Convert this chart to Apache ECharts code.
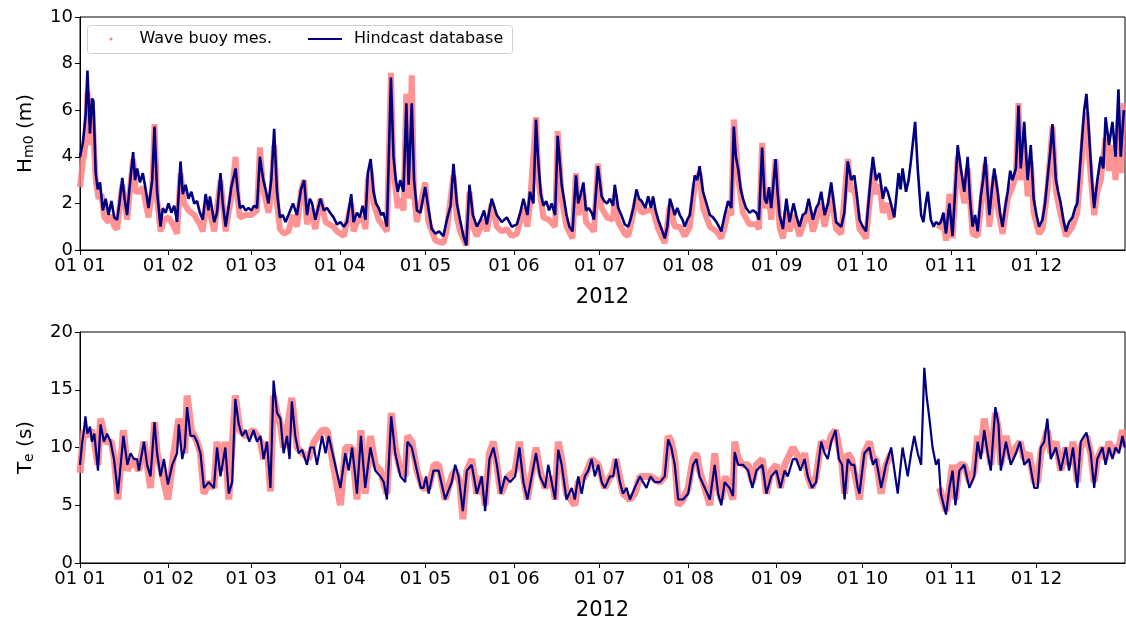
<!DOCTYPE html>
<html>
<head>
<meta charset="utf-8">
<title>Hm0 / Te 2012</title>
<script src="https://cdn.jsdelivr.net/npm/echarts@6/dist/echarts.min.js"></script>
<style>
  html, body { margin: 0; padding: 0; background: #fff; }
  #chart { width: 1126px; height: 623px; }
</style>
</head>
<body>
<div id="chart"></div>
<script>
// x positions are days since 2012-01-01
var monthStarts = [0, 31, 60, 91, 121, 152, 182, 213, 244, 274, 305, 335]
var monthLabels = ['01 01', '01 02', '01 03', '01 04', '01 05', '01 06', '01 07', '01 08', '01 09', '01 10', '01 11', '01 12']

// Hindcast Hm0 (m)
var hmDays = [0, 1, 2, 2.6, 3.5, 4.2, 4.7, 5.5, 6.2, 7, 8, 9, 10, 11, 12, 13, 13.8, 14.8, 15.6, 16.5, 17.3, 18.6, 19.3, 20, 21, 22, 23, 24, 25.3, 26.1, 27, 28.2, 29, 30, 31, 32, 33, 34, 35.2, 36, 37, 38, 39, 40, 41, 42, 43, 44, 45, 45.5, 47, 48, 49.2, 50, 51, 52, 53, 54.5, 55.2, 56, 57, 58, 59, 60, 61, 62, 63, 64.2, 65, 66, 67, 68, 69, 70, 71, 72, 73, 74.6, 76, 77.4, 78.5, 79.5, 80.5, 81.3, 82.4, 83.2, 84.2, 85.4, 86.5, 87.6, 88.8, 90, 91.2, 92.4, 93.5, 95, 95.8, 97, 98, 99, 100, 100.8, 101.8, 102.8, 103.7, 104.6, 105.5, 106.3, 107.5, 108.9, 109.8, 110.6, 111.3, 112.2, 113.3, 114.3, 115.1, 116.2, 117, 118, 119.2, 120.9, 122, 123.2, 124.5, 125.8, 127.3, 128.5, 129.8, 130.8, 132, 133.1, 134.3, 135.3, 136.4, 137.6, 139, 140.3, 141.5, 142.5, 144.2, 146, 147.7, 149.5, 151.2, 153, 154.2, 155.3, 156.7, 157.6, 158.8, 159.7, 160.5, 161.4, 162.3, 163.3, 164.3, 165.2, 166.4, 167.3, 168.7, 169.5, 170.4, 171.4, 172.5, 173.7, 174.5, 175.4, 176.3, 177.2, 178.2, 179.2, 180, 181.4, 182.7, 183.6, 184.6, 185.6, 186.7, 187.3, 188.5, 189.6, 190.8, 192, 192.8, 193.8, 194.9, 195.8, 196.7, 198, 199, 200, 200.7, 201.6, 202.5, 203.7, 204.8, 205.7, 206.6, 207.4, 208.3, 209.2, 210.1, 211, 211.8, 212.7, 213.6, 214.5, 215.3, 216.2, 217, 218.2, 219.4, 220.6, 221.7, 222.9, 223.8, 224.6, 225.8, 227, 228.1, 229, 229.7, 230.5, 231.4, 232.2, 233.3, 234.5, 235.7, 236.9, 237.8, 238.9, 239.8, 240.5, 241.3, 242.1, 243.6, 244.3, 245, 246.2, 247.4, 248.5, 249.9, 251, 252, 253.1, 254.2, 255.2, 256.7, 257.8, 258.7, 259.6, 260.8, 262, 263.1, 264, 264.8, 266.6, 267.7, 268.9, 270.1, 271.2, 272.2, 273, 274.2, 275.3, 276.5, 277.7, 278.8, 280, 281.2, 282.1, 282.9, 284, 285.2, 286.7, 287.4, 288.1, 289.3, 290.2, 291, 292.5, 293.4, 294.6, 295.4, 296.2, 296.9, 298, 299, 299.8, 300.7, 301.5, 302.4, 303.3, 304.5, 305.6, 306.5, 307.4, 308.5, 309.7, 310.9, 311.7, 312.6, 313.5, 314.4, 315.5, 316.3, 317.1, 317.8, 318.5, 319.3, 320.2, 321.4, 322.2, 323.1, 324, 324.9, 325.8, 326.6, 327.8, 328.7, 329.5, 330.7, 331.9, 333, 334, 335, 335.9, 337.1, 338, 338.8, 339.8, 340.6, 341.8, 342.6, 343.5, 344.4, 345.3, 346.4, 347.6, 348.5, 349.3, 350.5, 351.7, 352.5, 353.4, 354.4, 355.2, 356.3, 357.5, 358.4, 359.2, 360.4, 361.6, 362.7, 363.7, 364.5, 365.6]
var hmHindcast = [4.0, 4.6, 5.8, 7.7, 5.0, 6.5, 6.4, 3.3, 2.6, 2.9, 1.7, 2.2, 1.5, 2.1, 1.4, 1.3, 2.0, 3.1, 2.2, 1.5, 2.6, 4.2, 3.0, 3.5, 2.9, 3.3, 2.6, 1.8, 3.0, 5.3, 2.5, 1.0, 1.8, 1.6, 2.0, 1.6, 1.9, 1.2, 3.8, 2.4, 2.8, 2.2, 2.5, 2.0, 2.1, 1.6, 1.3, 2.4, 1.7, 2.3, 1.2, 1.6, 3.3, 2.0, 1.0, 1.8, 2.7, 3.5, 2.6, 1.8, 1.9, 1.7, 1.8, 1.7, 1.9, 1.8, 4.0, 3.0, 2.6, 2.0, 3.0, 5.2, 2.5, 1.4, 1.5, 1.2, 1.5, 2.0, 1.5, 2.6, 3.0, 1.5, 2.2, 2.0, 1.3, 1.7, 2.2, 1.7, 1.8, 1.6, 1.4, 1.1, 1.2, 1.0, 1.2, 2.4, 1.2, 1.6, 1.4, 1.9, 1.3, 3.3, 3.9, 2.5, 2.0, 1.8, 1.5, 1.6, 1.0, 7.4, 4.0, 3.0, 2.5, 3.0, 2.5, 6.3, 2.8, 6.3, 3.0, 1.7, 1.6, 2.7, 1.8, 0.9, 0.7, 0.8, 0.6, 1.3, 1.9, 3.7, 2.0, 1.3, 0.6, 0.2, 2.8, 1.5, 1.0, 1.3, 1.7, 1.1, 2.2, 1.5, 1.2, 1.4, 1.0, 1.1, 1.6, 2.2, 1.5, 2.5, 2.0, 5.6, 3.8, 2.4, 1.9, 2.1, 1.7, 2.0, 1.5, 4.9, 2.8, 2.2, 1.5, 1.0, 0.8, 3.2, 2.0, 2.4, 2.9, 1.7, 1.8, 1.6, 1.3, 3.6, 2.3, 2.1, 2.0, 2.2, 1.9, 2.8, 1.8, 1.5, 1.1, 1.0, 1.3, 1.8, 2.6, 2.2, 2.1, 1.8, 2.3, 1.8, 2.3, 1.7, 1.3, 0.9, 0.5, 1.0, 2.2, 1.9, 1.5, 1.8, 1.5, 1.3, 1.0, 1.3, 1.5, 2.4, 3.2, 3.0, 3.6, 2.5, 2.0, 1.5, 1.4, 1.2, 1.0, 0.8, 1.5, 2.1, 1.8, 5.3, 4.0, 3.5, 2.6, 2.2, 1.8, 1.6, 1.7, 1.6, 1.3, 4.4, 2.2, 2.0, 2.7, 1.8, 3.9, 2.5, 1.5, 0.9, 2.2, 1.2, 2.0, 1.4, 1.0, 1.5, 1.6, 2.2, 1.3, 1.8, 2.0, 2.5, 1.5, 2.0, 2.9, 2.0, 1.2, 1.0, 1.6, 3.8, 3.0, 3.2, 2.2, 1.3, 1.0, 0.8, 2.5, 4.0, 3.0, 3.3, 2.2, 2.7, 2.5, 2.0, 1.4, 3.3, 2.6, 3.5, 2.5, 3.0, 3.8, 5.5, 3.5, 1.5, 1.2, 2.0, 2.5, 1.3, 1.0, 1.2, 1.1, 1.2, 1.6, 0.7, 2.0, 0.6, 2.5, 4.5, 3.5, 2.5, 4.0, 2.2, 1.0, 1.5, 0.8, 2.3, 3.0, 4.0, 2.6, 1.5, 2.5, 3.5, 2.5, 1.6, 1.0, 1.8, 2.5, 3.4, 3.0, 3.5, 6.2, 3.5, 5.5, 3.0, 4.5, 2.2, 1.5, 1.0, 1.3, 2.0, 3.0, 4.2, 5.4, 3.0, 2.5, 2.0, 1.3, 0.8, 1.2, 1.4, 1.8, 2.0, 4.0, 6.0, 6.7, 5.0, 3.0, 1.8, 3.0, 4.0, 3.5, 5.7, 4.5, 5.5, 4.0, 6.9, 4.0, 6.0]

// Wave buoy Hm0 (m), null = no measurement
var buoyHmDays = [0, 1, 2, 2.6, 3.5, 4.3, 5.5, 6.5, 7.5, 8.5, 10, 11, 12, 13, 14.8, 16.5, 18.6, 19.5, 21, 22, 23, 24, 25.3, 26.1, 27, 28.2, 29.5, 31, 32.5, 34, 35.2, 36.5, 38, 40, 42, 43, 44, 45.5, 47, 49.2, 51, 53, 54.5, 55.2, 56, 58, 60, 62, 63, 64.2, 66, 67, 68, 69, 70, 71.5, 73, 74.6, 76, 77.4, 78.5, 79.5, 80.5, 82.4, 84.2, 86, 88.8, 90, 92.4, 95, 95.8, 97, 99, 100, 100.8, 101.8, 102.8, 104.6, 107.5, 108.9, 109.8, 111.3, 112.2, 113.3, 114.3, 115.1, 116.2, 117, 118, 120.9, 122, 124.5, 127.3, 128.5, 130.8, 132, 133.1, 135.3, 136.4, 137.6, 139, 141.5, 142.5, 144.2, 146, 147.7, 149.5, 151.2, 153, 155.3, 156.7, 157.6, 159.7, 160.5, 162.3, 164.3, 166.4, 167.3, 168.7, 170.4, 172.5, 173.7, 174.5, 176.3, 177.2, 180, 181.4, 182.7, 184.6, 186.7, 187.3, 188.5, 190.8, 192, 194.9, 196.7, 199, 200.7, 202.5, 204.8, 206.6, 208.3, 210.1, 211.8, 213.6, 215.3, 217, 218.2, 220.6, 222.9, 224.6, 225.8, 227, 228.1, 229, 230.5, 232.2, 234.5, 236.9, 237.8, 238.9, 239.8, 241.3, 242.1, 243.6, 245, 246.2, 247.4, 248.5, 249.9, 252, 255.2, 256.7, 259.6, 260.8, 263.1, 264.8, 266.6, 268.9, 270.1, 271.2, 273, 274.2, 275.3, 276.5, 277.7, 278.8, 280, 281.2, 282.9, 284, 292, 300.7, 302.4, 303.3, 304.5, 305.6, 307.4, 308.5, 309.7, 310.9, 312.6, 314.4, 315.5, 317.1, 318.5, 320.2, 321.4, 323.1, 324.9, 326.6, 327.8, 328.7, 329.5, 330.7, 331.9, 333, 334, 335.9, 337.1, 338.8, 340.6, 341.8, 343.5, 345.3, 347.6, 349.3, 350.5, 351.7, 352.5, 353.4, 355.2, 356.3, 357.5, 359.2, 360.4, 361.6, 362.7, 363.7, 364.5, 365.6]
var buoyHm = [2.7, 3.8, 4.6, 6.8, 4.5, 6.0, 3.0, 2.2, 2.4, 1.4, 1.2, 1.5, 1.0, 0.9, 2.8, 1.3, 3.9, 2.5, 2.5, 2.7, 2.0, 1.4, 2.6, 5.4, 2.2, 0.8, 1.3, 1.4, 1.1, 0.7, 3.3, 2.0, 1.7, 1.5, 1.1, 0.8, 1.9, 1.6, 0.8, 3.0, 0.8, 2.3, 4.0, 2.2, 1.4, 1.5, 1.5, 1.7, 4.4, 2.6, 1.6, 2.4, 4.5, 2.0, 0.9, 0.7, 0.8, 1.5, 1.0, 2.5, 3.0, 1.1, 1.8, 0.9, 2.2, 1.2, 1.0, 0.8, 0.6, 2.0, 0.8, 1.2, 1.4, 0.9, 3.0, 3.4, 2.0, 1.3, 0.8, 7.6, 3.4, 1.8, 2.2, 1.7, 6.7, 2.2, 7.5, 2.4, 1.2, 2.9, 1.2, 0.4, 0.3, 0.9, 3.2, 1.4, 0.8, 0.2, 2.5, 1.0, 0.6, 1.3, 0.8, 2.0, 1.0, 0.8, 0.9, 0.6, 0.7, 1.8, 1.0, 2.0, 5.7, 3.0, 1.4, 1.3, 1.0, 5.1, 2.2, 1.0, 0.5, 3.3, 1.5, 2.4, 1.2, 0.8, 3.7, 1.8, 1.4, 1.3, 2.4, 1.2, 0.7, 0.6, 2.2, 1.6, 1.7, 1.7, 0.9, 0.3, 1.9, 1.0, 1.0, 0.6, 1.0, 2.8, 3.3, 1.8, 1.0, 0.8, 0.5, 1.0, 1.7, 1.5, 5.6, 3.1, 1.6, 1.1, 1.1, 0.9, 4.6, 1.8, 2.3, 1.3, 3.9, 1.0, 0.5, 1.7, 0.8, 1.5, 0.6, 1.8, 0.8, 2.0, 1.0, 2.4, 0.9, 0.7, 3.9, 2.5, 2.7, 0.9, 0.7, 0.5, 2.0, 3.5, 2.4, 2.8, 1.6, 2.0, 1.3, null, 0.9, 1.3, 0.4, 2.4, 0.5, 4.0, 3.0, 2.0, 3.5, 0.7, 0.6, 1.8, 3.7, 1.0, 3.2, 1.8, 0.7, 2.2, 2.7, 3.2, 6.3, 3.0, 4.5, 2.3, 3.8, 1.6, 0.7, 0.9, 2.5, 5.3, 2.5, 1.5, 0.6, 1.0, 1.6, 3.3, 5.3, 5.9, 4.0, 1.5, 2.5, 3.0, 4.8, 3.4, 4.5, 3.0, 5.6, 3.3, 6.3]

// Hindcast Te (s)
var teDays = [0, 0.8, 1.4, 1.9, 2.6, 3.5, 4.2, 5, 6.3, 7.2, 8.4, 9.5, 10.7, 11.9, 13.3, 15.2, 16.6, 17.7, 18.9, 20, 20.6, 22.4, 23.5, 24.7, 26.1, 27, 28.2, 29.4, 30.8, 32.3, 34, 34.6, 35.8, 36.7, 37.5, 38.7, 40, 41, 42.2, 43.4, 45.1, 46.9, 48, 49.2, 50.9, 52.1, 53.3, 54.4, 55.6, 56.8, 58, 59.3, 60.8, 62, 63.2, 64.3, 65.5, 66.7, 67.8, 69, 70.2, 71.3, 72.5, 73.4, 74.2, 75.4, 76.6, 77.8, 79.5, 80.7, 81.9, 83, 84.8, 86, 87.1, 88.9, 91.2, 92.9, 94.1, 95.3, 96.2, 97, 98.4, 99.9, 101.7, 103.4, 105.2, 106.4, 107.5, 109, 110.4, 112.2, 113.9, 114.7, 116.2, 118, 119.4, 120.3, 121.2, 122.1, 123.8, 125.6, 127.9, 130.2, 131.4, 132.6, 134.1, 135.5, 137.2, 139, 140.7, 141.9, 143.4, 144.8, 146, 147.4, 148.9, 150.6, 152.4, 153.9, 155.3, 156.7, 158.2, 159.7, 161.1, 162.9, 164, 165.2, 166.4, 167.5, 168.7, 170.4, 172.2, 173.3, 174.5, 175.7, 176.8, 178, 179.2, 180.3, 181.5, 182.7, 183.8, 185.6, 186.8, 187.7, 189.1, 190.2, 191.4, 192.6, 194.3, 196.1, 197.2, 198.4, 199.8, 201.3, 203.1, 204.8, 206, 207.1, 208.3, 209.5, 211.2, 213, 214.7, 215.9, 217, 218.8, 220.6, 222.3, 223.5, 224.6, 225.8, 227.5, 228.7, 229.3, 230.5, 232.2, 234, 235.5, 236.9, 239, 240.4, 242.1, 243.9, 245.3, 246.8, 247.9, 249.7, 250.9, 252.3, 253.8, 254.9, 256.4, 257.8, 259.6, 260.8, 261.9, 263.1, 264.6, 265.8, 266.9, 267.8, 268.9, 270.2, 271.2, 272.4, 273, 274.7, 276.5, 277.7, 278.8, 280.6, 282.3, 284.1, 286.4, 288.1, 289.9, 291.1, 292.2, 293.4, 294.6, 295.7, 296.5, 297.5, 298.6, 299.8, 300.7, 301.5, 303.3, 304.5, 305.6, 306.6, 308, 309.7, 311.5, 313.2, 314.4, 315.5, 316.7, 317.9, 319, 320.6, 321.7, 322.5, 324.3, 326, 327.8, 329.2, 330.7, 332.4, 334.2, 335.4, 336.5, 337.7, 338.8, 340, 341.8, 343.5, 345.3, 346.4, 347.8, 349.3, 350.5, 352.5, 354, 355.2, 356.3, 358.1, 359.2, 360.4, 361.6, 362.7, 363.9, 365.1, 365.9]
var teHindcast = [8.5, 10.5, 11.5, 12.7, 11.2, 11.8, 10.5, 11.2, 8.0, 12.0, 10.5, 11.2, 10.5, 9.0, 6.0, 11.0, 8.5, 9.5, 9.0, 9.0, 8.0, 10.5, 8.5, 7.5, 12.2, 9.5, 7.5, 9.0, 6.8, 8.5, 9.5, 12.0, 9.0, 10.0, 13.5, 11.0, 11.0, 10.5, 9.5, 6.5, 7.0, 6.5, 10.0, 7.5, 10.0, 6.0, 7.0, 14.2, 12.0, 11.0, 11.5, 10.5, 11.5, 10.5, 11.0, 9.0, 10.5, 6.5, 15.8, 13.0, 12.5, 9.5, 11.0, 9.0, 14.0, 11.0, 9.5, 9.8, 8.5, 10.0, 10.0, 8.5, 11.0, 9.5, 11.0, 9.0, 6.5, 9.5, 8.0, 10.0, 8.0, 6.0, 11.0, 6.5, 10.0, 8.0, 7.5, 7.0, 5.5, 12.7, 9.5, 7.5, 7.0, 10.5, 10.0, 8.0, 6.5, 6.5, 7.5, 6.0, 8.0, 8.0, 5.5, 7.0, 8.5, 7.5, 4.5, 8.0, 8.5, 6.0, 7.5, 4.5, 9.0, 10.0, 8.5, 6.0, 7.5, 7.0, 7.5, 10.0, 7.0, 5.5, 7.5, 9.5, 7.5, 6.5, 8.5, 7.0, 5.5, 9.8, 8.5, 5.5, 6.5, 5.5, 7.5, 6.0, 7.5, 8.0, 9.0, 7.5, 8.5, 7.0, 6.5, 7.5, 7.5, 9.0, 7.0, 6.0, 6.5, 5.5, 6.5, 7.5, 7.0, 6.5, 7.5, 7.0, 7.0, 7.5, 10.7, 10.0, 8.5, 5.5, 5.5, 6.0, 8.5, 9.0, 7.5, 6.5, 5.5, 8.5, 6.0, 5.0, 7.0, 6.5, 5.8, 9.6, 8.5, 8.5, 8.0, 6.5, 8.0, 8.5, 6.0, 7.5, 8.0, 6.5, 8.0, 7.5, 9.0, 9.0, 8.0, 9.0, 7.5, 6.5, 7.0, 10.5, 9.5, 9.0, 10.5, 11.5, 9.0, 8.5, 5.5, 9.0, 8.5, 8.5, 6.5, 6.0, 9.5, 10.0, 8.5, 9.0, 6.5, 8.5, 10.0, 6.0, 10.0, 7.5, 9.5, 11.0, 9.5, 8.5, 16.9, 14.5, 12.5, 10.0, 8.5, 9.0, 6.0, 4.2, 6.5, 8.0, 5.0, 8.0, 8.5, 6.5, 7.5, 10.5, 9.0, 11.5, 9.5, 8.0, 13.5, 12.0, 8.0, 10.5, 8.5, 9.5, 10.5, 8.5, 9.0, 6.5, 6.5, 10.0, 10.5, 12.5, 9.0, 10.0, 8.0, 10.0, 8.0, 10.0, 6.5, 10.5, 11.3, 9.5, 6.5, 9.0, 10.0, 8.5, 10.0, 9.0, 10.0, 9.5, 11.0, 10.0]

// Wave buoy Te (s), null = no measurement
var buoyTeDays = [0, 1.4, 2.6, 4, 5, 6.3, 7.2, 9, 11, 12, 13.3, 15.2, 16.6, 18.5, 20.6, 22.4, 24.7, 26.1, 27, 28.5, 30.8, 32.3, 34.6, 36.7, 37.5, 39, 41, 42.2, 43.4, 45.1, 46.9, 48, 49.2, 50.9, 52.1, 54.4, 56, 58, 60.8, 63.2, 64.3, 65.5, 66.7, 67.8, 69, 70.2, 71.3, 72.5, 74.2, 76, 78, 80, 82, 84.8, 86.5, 88, 91.2, 93, 95.3, 97, 98.4, 99.9, 101.7, 103.4, 105.2, 107.5, 109, 110.4, 112.2, 113.9, 114.7, 116.2, 118, 120, 122.1, 124, 125.6, 127.9, 130.2, 131.4, 133, 134.1, 135.5, 137.2, 139, 140.7, 141.9, 143.4, 144.8, 146, 147.4, 150, 152.4, 153.9, 155.3, 156.7, 159.7, 161.1, 162.9, 165.2, 166.4, 167.5, 168.7, 170.4, 173.3, 174.5, 176.8, 179.2, 181.5, 183.8, 186.8, 187.7, 190.2, 192.6, 194.3, 196.1, 199.8, 203.1, 204.8, 206, 207.1, 208.3, 209.5, 211.2, 213, 214.7, 215.9, 217, 218.8, 220.6, 222.3, 223.5, 224.6, 226, 228.7, 229.3, 230.5, 232.2, 234, 235.5, 236.9, 239, 240.4, 242.1, 243.9, 245.3, 246.8, 249.7, 250.9, 252.3, 253.8, 254.9, 256.4, 257.8, 259.6, 261.9, 263.1, 264.6, 265.8, 266.9, 267.8, 268.9, 270.2, 272.4, 273, 274.7, 276.5, 277.7, 278.8, 280.6, 282.3, 284.1, 292, 301, 303.3, 304.5, 305.6, 306.6, 308, 309.7, 311.5, 313.2, 314.4, 315.5, 316.7, 317.9, 319, 320.6, 321.7, 322.5, 324.3, 326, 327.8, 329.2, 330.7, 332.4, 334.2, 335.4, 336.5, 337.7, 338.8, 340, 341.8, 343.5, 345.3, 346.4, 347.8, 349.3, 350.5, 352.5, 354, 355.2, 356.3, 358.1, 359.2, 360.4, 361.6, 362.7, 363.9, 365.1, 365.9]
var buoyTe = [7.8, 11.5, 11.0, 11.5, 10.5, 8.5, 12.5, 10.5, 10.5, 9.0, 5.5, 11.5, 8.0, 9.0, 8.0, 10.5, 6.5, 12.2, 9.5, 8.0, 5.5, 8.5, 12.5, 9.5, 14.5, 11.5, 10.5, 9.5, 6.0, 7.0, 6.5, 10.5, 8.0, 10.5, 5.5, 14.5, 11.5, 11.0, 11.5, 10.5, 9.0, 10.5, 6.2, 14.5, 13.0, 12.0, 10.0, 11.5, 14.3, 10.0, 9.5, 9.0, 10.5, 11.5, 11.5, 9.5, 5.0, 10.0, 10.0, 5.5, 11.5, 6.0, 11.0, 8.5, 8.0, 6.0, 13.0, 10.0, 8.0, 7.5, 11.0, 10.5, 8.0, 6.5, 6.5, 8.5, 8.5, 5.5, 7.5, 8.0, 7.0, 3.8, 8.0, 9.0, 6.0, 7.5, 5.0, 9.5, 10.5, 8.5, 6.0, 7.5, 8.0, 10.5, 7.5, 5.5, 10.0, 8.0, 6.5, 7.5, 5.5, 10.5, 9.0, 6.0, 5.0, 7.0, 7.5, 9.0, 8.5, 6.5, 8.0, 9.0, 6.0, 5.5, 6.0, 7.5, 7.5, 7.0, 7.5, 11.0, 10.5, 9.0, 5.0, 5.5, 6.5, 9.0, 9.5, 8.0, 6.5, 5.0, 9.5, 6.5, 5.5, 7.5, 5.5, 10.5, 9.0, 8.5, 8.5, 7.0, 8.5, 9.0, 6.0, 8.0, 8.5, 6.5, 8.5, 10.0, 9.5, 8.5, 9.5, 7.5, 6.5, 7.5, 10.5, 10.0, 11.0, 11.5, 10.0, 8.5, 6.0, 9.5, 9.0, 6.5, 5.5, 9.5, 10.5, 9.0, 9.0, 6.0, 8.5, 9.5, null, 6.5, 4.5, 6.5, 8.5, 5.5, 8.5, 8.5, 7.0, 8.0, 11.0, 9.5, 12.5, 10.5, 8.5, 13.0, 11.5, 8.5, 11.0, 9.0, 10.0, 10.5, 9.0, 9.5, 7.0, 7.0, 9.5, 10.5, 11.5, 9.5, 10.5, 8.0, 10.0, 8.5, 10.5, 7.0, 10.0, 11.0, 9.5, 7.0, 9.0, 10.0, 9.0, 10.5, 9.5, 10.0, 10.0, 11.5, 10.5]

var BUOY = '#ff7f7f'
var NAVY = '#000080'
var FONT = 'DejaVu Sans'

function pairs(days, vals) {
  return days.map(function (d, i) {
    return [d, vals[i] == null ? '-' : vals[i]]
  })
}

function xAxisFor(idx) {
  return {
    type: 'value',
    gridIndex: idx,
    min: 0,
    max: 366,
    name: '2012',
    nameLocation: 'middle',
    nameGap: 37,
    nameTextStyle: { color: '#000', fontSize: 21, fontFamily: FONT },
    axisLine: { show: true, lineStyle: { color: '#000', width: 1 } },
    axisTick: { show: true, length: 5, lineStyle: { color: '#000' }, customValues: monthStarts },
    axisLabel: {
      color: '#000', fontSize: 18, fontFamily: FONT, margin: 7,
      customValues: monthStarts,
      formatter: function (v) {
        var k = monthStarts.indexOf(Math.round(v))
        return k >= 0 ? monthLabels[k] : ''
      }
    },
    splitLine: { show: false }
  }
}

function yAxisFor(idx, max, step, name) {
  return {
    type: 'value',
    gridIndex: idx,
    min: 0,
    max: max,
    interval: step,
    name: name,
    nameLocation: 'middle',
    nameGap: 44,
    nameRotate: 90,
    nameTextStyle: {
      color: '#000', fontSize: 20, fontFamily: FONT,
      rich: {
        n: { fontSize: 20, fontFamily: FONT, color: '#000' },
        s: { fontSize: 14, fontFamily: FONT, color: '#000', verticalAlign: 'bottom', padding: [6, 0, 0, 0] }
      }
    },
    axisLine: { show: true, lineStyle: { color: '#000', width: 1 } },
    axisTick: { show: true, length: 5, lineStyle: { color: '#000' } },
    axisLabel: { color: '#000', fontSize: 18, fontFamily: FONT, margin: 7 },
    splitLine: { show: false }
  }
}

var chart = echarts.init(document.getElementById('chart'), null, { renderer: 'canvas' })

var option = {
  animation: false,
  backgroundColor: '#fff',
  grid: [
    { left: 80, top: 17, right: 1, height: 233, show: true, borderColor: '#000', borderWidth: 1, backgroundColor: 'transparent' },
    { left: 80, top: 332, right: 1, height: 231, show: true, borderColor: '#000', borderWidth: 1, backgroundColor: 'transparent' }
  ],
  xAxis: [xAxisFor(0), xAxisFor(1)],
  yAxis: [
    yAxisFor(0, 10, 2, '{n|H}{s|m0}{n| (m)}'),
    yAxisFor(1, 20, 5, '{n|T}{s|e}{n| (s)}')
  ],
  graphic: [{
    type: 'rect',
    shape: { x: 87.5, y: 25.5, width: 425, height: 28, r: 3 },
    style: { fill: 'rgba(255,255,255,0.8)', stroke: '#d0d0d0', lineWidth: 1 },
    z: 100
  }],
  legend: [
    {
      left: 109.5, top: 31, z: 101, padding: 0,
      itemWidth: 3, itemHeight: 3, itemGap: 0,
      textStyle: { color: '#000', fontSize: 16, fontFamily: FONT, padding: [0, 0, 0, 22] },
      data: [{ name: 'Wave buoy mes.', icon: 'circle', itemStyle: { color: BUOY } }]
    },
    {
      left: 308, top: 31, z: 101, padding: 0,
      itemWidth: 34, itemHeight: 2, itemGap: 0,
      textStyle: { color: '#000', fontSize: 16, fontFamily: FONT, padding: [0, 0, 0, 7] },
      data: [{ name: 'Hindcast database', icon: 'rect', itemStyle: { color: NAVY } }]
    }
  ],
  series: [
    {
      name: 'Wave buoy mes.', type: 'line', xAxisIndex: 0, yAxisIndex: 0,
      data: pairs(buoyHmDays, buoyHm), showSymbol: false, connectNulls: false,
      lineStyle: { color: BUOY, width: 6, opacity: 0.85 }, itemStyle: { color: BUOY }, z: 2
    },
    {
      name: 'Hindcast database', type: 'line', xAxisIndex: 0, yAxisIndex: 0,
      data: pairs(hmDays, hmHindcast), showSymbol: false,
      lineStyle: { color: NAVY, width: 2.6 }, itemStyle: { color: NAVY }, z: 3
    },
    {
      name: 'Wave buoy mes.', type: 'line', xAxisIndex: 1, yAxisIndex: 1,
      data: pairs(buoyTeDays, buoyTe), showSymbol: false, connectNulls: false,
      lineStyle: { color: BUOY, width: 7, opacity: 0.85 }, itemStyle: { color: BUOY }, z: 2
    },
    {
      name: 'Hindcast database', type: 'line', xAxisIndex: 1, yAxisIndex: 1,
      data: pairs(teDays, teHindcast), showSymbol: false,
      lineStyle: { color: NAVY, width: 2.2 }, itemStyle: { color: NAVY }, z: 3
    }
  ]
}

chart.setOption(option)
</script>
</body>
</html>
